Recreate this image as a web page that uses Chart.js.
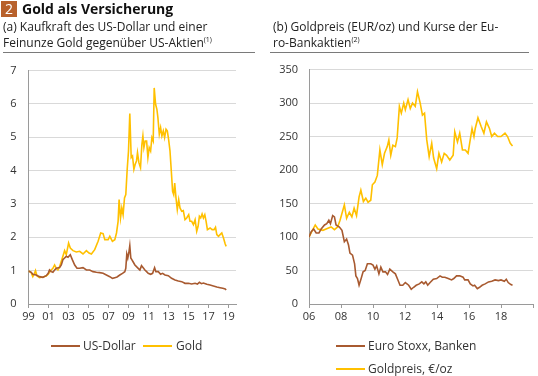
<!DOCTYPE html>
<html>
<head>
<meta charset="utf-8">
<script src="https://cdn.jsdelivr.net/npm/chart.js@4/dist/chart.umd.min.js"></script>
<style>
  body { margin: 0; width: 538px; height: 376px; position: relative; background: #fff;
         font-family: "Open Sans", sans-serif; color: #222; overflow: hidden; }
  .abs { position: absolute; }
  #num { left: 1px; top: 1px; width: 16px; height: 16px; background: #b8612c; color: #fff;
         font-size: 14px; line-height: 16px; text-align: center; }
  #title { left: 22px; top: -1px; font-size: 14px; font-weight: 700; color: #111; }
  .sub { font-size: 12px; line-height: 16px; color: #222; white-space: nowrap; }
  .sub sup { font-size: 7px; vertical-align: 5px; line-height: 0; }
  .rule { height: 1px; background: #7a7a7a; top: 52px; }
  .leg { font-size: 12px; color: #333; line-height: 14px; }
  .key { height: 2px; width: 29px; }
  canvas { z-index: -1; }
</style>
</head>
<body>
<div id="num" class="abs">2</div>
<div id="title" class="abs">Gold als Versicherung</div>
<div class="abs sub" style="left:3px; top:19px;">(a) Kaufkraft des US-Dollar und einer<br>Feinunze Gold gegenüber US-Aktien<sup>(1)</sup></div>
<div class="abs sub" style="left:273px; top:19px;">(b) Goldpreis (EUR/oz) und Kurse der Eu-<br>ro-Bankaktien<sup>(2)</sup></div>
<div class="abs rule" style="left:3px; width:252px;"></div>
<div class="abs rule" style="left:270px; width:259px;"></div>

<canvas id="left" class="abs" width="240" height="274" style="left:0; top:52px;"></canvas>
<canvas id="right" class="abs" width="267" height="274" style="left:270px; top:52px;"></canvas>

<div class="abs key" style="left:51px; top:345px; background:#a85a30;"></div>
<div class="abs leg" style="left:83px; top:339px;">US-Dollar</div>
<div class="abs key" style="left:143px; top:345px; background:#ffc000;"></div>
<div class="abs leg" style="left:176px; top:339px;">Gold</div>
<div class="abs key" style="left:336px; top:345px; background:#a85a30;"></div>
<div class="abs leg" style="left:368px; top:339px;">Euro Stoxx, Banken</div>
<div class="abs key" style="left:336px; top:368px; background:#ffc000;"></div>
<div class="abs leg" style="left:368px; top:362px;">Goldpreis, €/oz</div>

<script>
// (a) Kaufkraft, Index 1999 = 1
var usdDates = [1999.0, 1999.27, 1999.43, 1999.77, 2000.1, 2000.44, 2000.77, 2000.97, 2001.1, 2001.27,
  2001.44, 2001.61, 2001.78, 2002.11, 2002.28, 2002.44, 2002.61, 2002.78, 2002.95, 2003.18,
  2003.38, 2003.62, 2003.85, 2004.12, 2004.45, 2004.79, 2005.12, 2005.45, 2005.79, 2006.12,
  2006.46, 2006.79, 2007.13, 2007.39, 2007.63, 2007.86, 2008.13, 2008.4, 2008.63, 2008.73,
  2008.83, 2008.93, 2009.03, 2009.13, 2009.23, 2009.33, 2009.47, 2009.64, 2009.8, 2009.97,
  2010.14, 2010.3, 2010.47, 2010.64, 2010.81, 2010.97, 2011.21, 2011.41, 2011.61, 2011.74,
  2011.98, 2012.21, 2012.41, 2012.65, 2012.98, 2013.31, 2013.65, 2013.98, 2014.32, 2014.65,
  2014.99, 2015.32, 2015.66, 2015.89, 2016.09, 2016.29, 2016.49, 2016.83, 2017.16, 2017.49,
  2017.83, 2018.16, 2018.43, 2018.67, 2018.77];
var usdValues = [0.99, 0.95, 0.89, 0.87, 0.82, 0.80, 0.85, 0.92, 1.02, 0.97,
  0.95, 1.02, 1.07, 1.09, 1.17, 1.33, 1.38, 1.43, 1.40, 1.48,
  1.33, 1.17, 1.07, 1.07, 1.09, 1.02, 1.02, 0.97, 0.95, 0.94,
  0.92, 0.87, 0.82, 0.77, 0.79, 0.81, 0.87, 0.92, 0.97, 1.07,
  1.50, 1.38, 1.53, 1.75, 1.38, 1.33, 1.26, 1.17, 1.12, 1.07,
  1.02, 1.15, 1.09, 1.02, 0.97, 0.92, 0.89, 0.92, 1.09, 0.97,
  0.97, 0.89, 0.92, 0.87, 0.85, 0.77, 0.72, 0.69, 0.67, 0.62,
  0.62, 0.60, 0.62, 0.60, 0.65, 0.61, 0.63, 0.59, 0.57, 0.54,
  0.51, 0.49, 0.47, 0.45, 0.42];

var goldDates = [1999.0, 1999.27, 1999.43, 1999.6, 1999.7, 1999.84, 2000.1, 2000.44, 2000.77, 2000.97,
  2001.1, 2001.27, 2001.44, 2001.61, 2001.78, 2001.94, 2002.11, 2002.28, 2002.44, 2002.61,
  2002.78, 2003.01, 2003.18, 2003.45, 2003.78, 2004.12, 2004.45, 2004.79, 2005.05, 2005.29,
  2005.62, 2005.96, 2006.22, 2006.46, 2006.63, 2006.96, 2007.13, 2007.39, 2007.63, 2007.8,
  2007.96, 2008.06, 2008.2, 2008.33, 2008.46, 2008.6, 2008.73, 2008.87, 2009.0, 2009.13,
  2009.27, 2009.4, 2009.54, 2009.67, 2009.8, 2009.9, 2010.04, 2010.2, 2010.34, 2010.44,
  2010.54, 2010.67, 2010.81, 2010.94, 2011.07, 2011.21, 2011.34, 2011.47, 2011.57, 2011.71,
  2011.84, 2011.94, 2012.08, 2012.21, 2012.34, 2012.48, 2012.61, 2012.75, 2012.88, 2013.01,
  2013.15, 2013.28, 2013.41, 2013.52, 2013.62, 2013.75, 2013.88, 2014.02, 2014.15, 2014.32,
  2014.48, 2014.65, 2014.82, 2015.02, 2015.15, 2015.32, 2015.49, 2015.66, 2015.82, 2015.96,
  2016.09, 2016.22, 2016.36, 2016.49, 2016.63, 2016.76, 2016.89, 2017.16, 2017.36, 2017.56,
  2017.7, 2017.83, 2018.0, 2018.16, 2018.33, 2018.5, 2018.67, 2018.77];
var goldValues = [0.99, 0.94, 0.82, 0.92, 1.00, 0.85, 0.79, 0.81, 0.84, 0.89,
  0.95, 1.02, 1.07, 1.17, 1.07, 1.02, 1.12, 1.28, 1.43, 1.60,
  1.48, 1.83, 1.68, 1.60, 1.56, 1.58, 1.50, 1.60, 1.53, 1.50,
  1.63, 1.88, 2.13, 2.11, 1.93, 1.93, 2.03, 1.88, 1.93, 2.13,
  2.48, 3.13, 2.58, 2.88, 2.68, 3.18, 3.28, 4.04, 4.59, 5.71,
  4.39, 4.44, 4.04, 4.19, 4.29, 4.54, 4.24, 4.09, 4.79, 5.04,
  4.69, 4.89, 4.89, 4.39, 4.69, 4.59, 4.99, 4.89, 6.48, 5.99,
  5.84, 5.59, 5.09, 5.29, 5.04, 5.19, 4.99, 5.24, 5.19, 4.94,
  4.59, 3.99, 3.38, 3.28, 3.63, 3.18, 2.83, 3.13, 2.88, 2.78,
  2.80, 2.53, 2.58, 2.68, 2.48, 2.48, 2.38, 2.53, 2.18, 2.33,
  2.63, 2.58, 2.70, 2.58, 2.68, 2.48, 2.23, 2.28, 2.23, 2.23,
  2.30, 2.08, 2.03, 2.08, 2.13, 1.98, 1.80, 1.73];

// (b) Index 2006 = 100
var bankDates = [2006.0, 2006.14, 2006.29, 2006.45, 2006.62, 2006.76, 2006.97, 2007.11, 2007.24, 2007.34,
  2007.48, 2007.59, 2007.69, 2007.9, 2008.06, 2008.21, 2008.35, 2008.47, 2008.56, 2008.72,
  2008.85, 2008.93, 2009.03, 2009.13, 2009.26, 2009.38, 2009.51, 2009.65, 2009.86, 2010.0,
  2010.12, 2010.23, 2010.37, 2010.49, 2010.62, 2010.78, 2010.91, 2011.05, 2011.24, 2011.4,
  2011.57, 2011.69, 2011.86, 2012.02, 2012.23, 2012.39, 2012.54, 2012.7, 2012.89, 2013.05,
  2013.18, 2013.3, 2013.42, 2013.57, 2013.77, 2013.98, 2014.19, 2014.33, 2014.49, 2014.7,
  2014.91, 2015.05, 2015.22, 2015.42, 2015.63, 2015.73, 2015.94, 2016.08, 2016.25, 2016.35,
  2016.52, 2016.66, 2016.82, 2017.01, 2017.22, 2017.42, 2017.63, 2017.84, 2018.0, 2018.21,
  2018.33, 2018.45, 2018.62, 2018.72];
var bankValues = [100, 108, 112, 106, 106, 112, 118, 120, 125, 120,
  132, 130, 118, 115, 110, 93, 97, 88, 76, 73,
  60, 42, 38, 28, 38, 48, 50, 60, 60, 58,
  52, 57, 45, 55, 48, 48, 44, 52, 48, 45,
  35, 28, 28, 32, 28, 22, 25, 28, 30, 33,
  30, 33, 28, 32, 37, 38, 42, 40, 40, 38,
  36, 38, 42, 42, 40, 36, 36, 30, 27, 28,
  23, 25, 28, 30, 33, 34, 36, 35, 36, 34,
  37, 32, 29, 28];

var eurGoldDates = [2006.0, 2006.21, 2006.39, 2006.56, 2006.87, 2007.18, 2007.38, 2007.59, 2007.79, 2007.94,
  2008.21, 2008.35, 2008.52, 2008.68, 2008.82, 2008.97, 2009.13, 2009.24, 2009.4, 2009.55,
  2009.69, 2009.86, 2009.96, 2010.12, 2010.27, 2010.43, 2010.58, 2010.72, 2010.89, 2010.99,
  2011.11, 2011.24, 2011.4, 2011.51, 2011.65, 2011.77, 2011.92, 2012.02, 2012.19, 2012.33,
  2012.47, 2012.64, 2012.78, 2012.95, 2013.09, 2013.22, 2013.36, 2013.51, 2013.67, 2013.79,
  2013.98, 2014.12, 2014.29, 2014.45, 2014.6, 2014.8, 2015.01, 2015.11, 2015.28, 2015.42,
  2015.59, 2015.77, 2015.94, 2016.04, 2016.19, 2016.31, 2016.39, 2016.56, 2016.76, 2016.93,
  2017.09, 2017.28, 2017.42, 2017.59, 2017.79, 2018.0, 2018.25, 2018.41, 2018.58, 2018.72];
var eurGoldValues = [100, 110, 118, 112, 110, 113, 115, 111, 115, 125,
  148, 128, 137, 130, 143, 132, 160, 170, 153, 158,
  152, 155, 178, 182, 192, 230, 208, 225, 235, 245,
  222, 237, 235, 248, 295, 285, 300, 290, 305, 292,
  300, 295, 317, 300, 282, 285, 245, 220, 240, 218,
  202, 225, 212, 225, 222, 215, 222, 257, 242, 255,
  230, 230, 225, 240, 262, 250, 262, 278, 265, 255,
  272, 262, 250, 255, 250, 250, 255, 250, 240, 236];

var leftTicks = [1999, 2001, 2003, 2005, 2007, 2009, 2011, 2013, 2015, 2017, 2019];

var brown = '#a85a30';
var gold = '#ffc000';

function pairs(xs, ys) {
    return xs.map(function (x, i) { return { x: x, y: ys[i] }; });
}

function yearLabel(v) {
    var s = String(Math.round(v) % 100);
    return s.length < 2 ? '0' + s : s;
}

function lineSet(label, data, color) {
    return {
        label: label, data: data, borderColor: color, backgroundColor: color,
        borderWidth: 1.6, pointRadius: 0, tension: 0, fill: false
    };
}

function makeConfig(datasets, xOpts, yOpts, yWidth) {
    return {
        type: 'line',
        data: { datasets: datasets },
        options: {
            responsive: false,
            animation: false,
            layout: { padding: { top: 6, right: 4, left: 0, bottom: 0 } },
            plugins: { legend: { display: false }, tooltip: { enabled: false } },
            scales: {
                x: Object.assign({
                    type: 'linear',
                    border: { color: '#9a9a9a' },
                    grid: { drawOnChartArea: false, drawTicks: true, tickLength: 4, color: '#9a9a9a' },
                    ticks: { color: '#333', font: { family: 'Open Sans', size: 11 }, padding: 2,
                             maxRotation: 0, autoSkip: false },
                    afterFit: function (s) { s.height = 22; }
                }, xOpts),
                y: Object.assign({
                    border: { color: '#9a9a9a' },
                    grid: { color: '#d9d9d9', drawTicks: false },
                    ticks: { color: '#333', font: { family: 'Open Sans', size: 11 }, padding: 11 },
                    afterFit: function (s) { s.width = yWidth; }
                }, yOpts)
            }
        }
    };
}

new Chart(document.getElementById('left').getContext('2d'), makeConfig(
    [lineSet('US-Dollar', pairs(usdDates, usdValues), brown),
     lineSet('Gold', pairs(goldDates, goldValues), gold)],
    {
        min: 1999, max: 2019.75,
        afterBuildTicks: function (axis) { axis.ticks = leftTicks.map(function (v) { return { value: v }; }); },
        ticks: { color: '#333', font: { family: 'Open Sans', size: 11 }, padding: 2, maxRotation: 0,
                 autoSkip: false, callback: yearLabel }
    },
    { min: 0, max: 7, ticks: { stepSize: 1, color: '#333', font: { family: 'Open Sans', size: 11 }, padding: 12 } },
    28.5
));

new Chart(document.getElementById('right').getContext('2d'), makeConfig(
    [lineSet('Euro Stoxx, Banken', pairs(bankDates, bankValues), brown),
     lineSet('Goldpreis, €/oz', pairs(eurGoldDates, eurGoldValues), gold)],
    {
        min: 2006, max: 2020,
        ticks: { stepSize: 2, color: '#333', font: { family: 'Open Sans', size: 11 }, padding: 2, maxRotation: 0,
                 autoSkip: false, callback: function (v) { return v >= 2020 ? '' : yearLabel(v); } }
    },
    { min: 0, max: 350, ticks: { stepSize: 50, color: '#333', font: { family: 'Open Sans', size: 11 }, padding: 11 } },
    39
));
</script>
</body>
</html>
